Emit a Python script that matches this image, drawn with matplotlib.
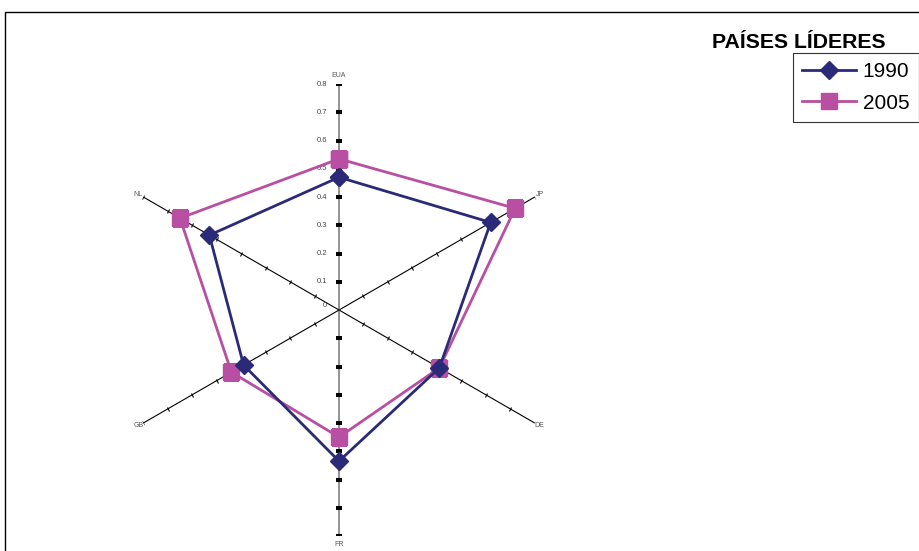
"""Radar chart: países líderes, 1990 vs 2005."""
import numpy as np
import matplotlib
matplotlib.use('Agg')
import matplotlib.pyplot as plt
from matplotlib.markers import MarkerStyle
from matplotlib.patches import Rectangle
from matplotlib.transforms import Affine2D, ScaledTranslation

plt.rcParams['font.family'] = ['Liberation Sans', 'DejaVu Sans']

categories = ['EUA', 'JP', 'DE', 'FR', 'GB', 'NL']
values_1990 = [0.47, 0.62, 0.41, 0.535, 0.39, 0.53]
values_2005 = [0.535, 0.72, 0.41, 0.45, 0.44, 0.65]
r_ticks = [0, 0.1, 0.2, 0.3, 0.4, 0.5, 0.6, 0.7, 0.8]
series_labels = ['1990', '2005']

COLOR_1990 = '#2a2a78'
COLOR_2005 = '#b84fa2'
R_MAX = 0.8

fig = plt.figure(figsize=(9.19, 5.51), dpi=100)
ax = fig.add_axes([0.123, 0.0272, 0.4918, 0.8203], projection='polar')
ax.set_theta_zero_location('N')
ax.set_theta_direction(-1)
ax.set_ylim(0, R_MAX)
ax.grid(False)
ax.spines['polar'].set_visible(False)
ax.set_xticks([])
ax.set_yticks([])
ax.patch.set_visible(False)

angles = np.arange(len(categories)) * 2 * np.pi / len(categories)

# category axes with small cross ticks (vertical ones are grey)
for i, th in enumerate(angles):
    deg = np.degrees(th)
    if i in (0, 3):
        ax.plot([th, th], [0, R_MAX], color='#8a8a8a', lw=1.3, zorder=1)
        ax.plot([th] * (len(r_ticks) - 1), r_ticks[1:], ls='none',
                marker='_', ms=4.5, mew=1.5, color='black', zorder=2)
    else:
        ax.plot([th, th], [0, R_MAX], color='black', lw=0.8, zorder=1)
        tick = MarkerStyle('_', transform=Affine2D().rotate_deg(180 - deg))
        ax.plot([th] * (len(r_ticks) - 1), r_ticks[1:], ls='none',
                marker=tick, ms=3, mew=0.8, color='black', zorder=2)

    r_lab = 0.83 if i in (0, 3) else 0.82
    ax.text(th, r_lab, categories[i], fontsize=5, color='#555555',
            ha='center', va='center')

# radial value labels on the EUA axis
for r in r_ticks:
    off = ScaledTranslation(-12 / 100, (5 if r == 0 else 0) / 100,
                            fig.dpi_scale_trans)
    ax.text(0, r, f'{r:g}', fontsize=5.5, color='#444444', ha='right',
            va='center', transform=ax.transData + off)

closed = np.append(angles, angles[0])
h1, = ax.plot(closed, values_1990 + values_1990[:1], color=COLOR_1990,
              lw=2, marker='D', ms=9, zorder=5, label=series_labels[0])
h2, = ax.plot(closed, values_2005 + values_2005[:1], color=COLOR_2005,
              lw=2, marker='s', ms=11, zorder=4, label=series_labels[1])

leg = fig.legend(handles=[h1, h2], loc='upper right',
                 bbox_to_anchor=(0.9995, 0.904), fontsize=15,
                 frameon=True, fancybox=False, edgecolor='black',
                 handlelength=2.6, handletextpad=0.3, borderpad=0.45,
                 labelspacing=0.6, borderaxespad=0)
leg.get_frame().set_linewidth(0.8)
fig.text(0.7745, 0.922, 'PAÍSES LÍDERES', fontsize=15.3,
         fontweight='bold', ha='left', va='center')

fig.add_artist(Rectangle((5 / 919, -0.1), 1.2, 0.978 + 0.1,
                         transform=fig.transFigure, fill=False,
                         lw=1, edgecolor='black'))

fig.savefig('out.png', dpi=100)
